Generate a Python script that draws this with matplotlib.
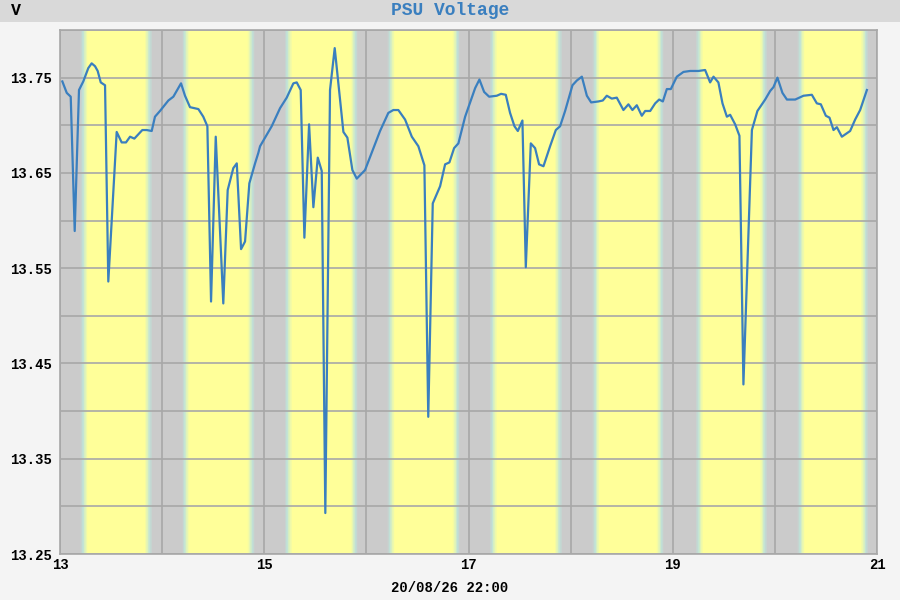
import numpy as np
import matplotlib.pyplot as plt
from matplotlib.colors import to_rgb
from matplotlib.patches import Rectangle

# sample time (day of month, fractional) and PSU voltage
times = [13.023, 13.066, 13.105, 13.144, 13.186, 13.228, 13.277, 13.310, 13.343, 13.369,
         13.399, 13.441, 13.473, 13.555, 13.604, 13.646, 13.686, 13.728, 13.806, 13.849,
         13.898, 13.930, 13.979, 14.061, 14.110, 14.185, 14.224, 14.273, 14.355, 14.403,
         14.443, 14.479, 14.525, 14.599, 14.642, 14.697, 14.731, 14.773, 14.812, 14.854,
         14.910, 14.942, 14.959, 15.073, 15.155, 15.220, 15.285, 15.318, 15.357, 15.393,
         15.439, 15.481, 15.524, 15.563, 15.598, 15.644, 15.690, 15.775, 15.814, 15.863,
         15.906, 15.987, 16.134, 16.215, 16.264, 16.313, 16.379, 16.445, 16.509, 16.568,
         16.606, 16.650, 16.722, 16.771, 16.813, 16.859, 16.901, 16.950, 16.967, 17.065,
         17.107, 17.153, 17.202, 17.277, 17.319, 17.365, 17.407, 17.450, 17.483, 17.528,
         17.561, 17.610, 17.652, 17.691, 17.734, 17.799, 17.855, 17.897, 17.946, 18.018,
         18.061, 18.110, 18.159, 18.201, 18.272, 18.315, 18.354, 18.403, 18.452, 18.517,
         18.566, 18.605, 18.648, 18.697, 18.730, 18.779, 18.828, 18.867, 18.903, 18.942,
         18.981, 19.040, 19.105, 19.170, 19.252, 19.317, 19.366, 19.399, 19.447, 19.487,
         19.530, 19.562, 19.611, 19.653, 19.692, 19.775, 19.829, 19.905, 19.954, 19.986,
         20.025, 20.074, 20.118, 20.199, 20.280, 20.362, 20.411, 20.450, 20.499, 20.535,
         20.574, 20.607, 20.656, 20.737, 20.786, 20.835, 20.901]
volts = [13.746, 13.734, 13.730, 13.589, 13.737, 13.746, 13.760, 13.765, 13.762, 13.757,
         13.745, 13.742, 13.536, 13.693, 13.682, 13.682, 13.688, 13.686, 13.695, 13.695,
         13.694, 13.709, 13.715, 13.726, 13.730, 13.744, 13.731, 13.719, 13.717, 13.709,
         13.699, 13.515, 13.688, 13.513, 13.632, 13.655, 13.660, 13.570, 13.578, 13.639,
         13.660, 13.671, 13.678, 13.699, 13.718, 13.729, 13.744, 13.745, 13.737, 13.582,
         13.701, 13.614, 13.666, 13.652, 13.293, 13.737, 13.781, 13.693, 13.687, 13.653,
         13.644, 13.653, 13.694, 13.713, 13.716, 13.716, 13.706, 13.688, 13.678, 13.658,
         13.394, 13.618, 13.636, 13.659, 13.661, 13.676, 13.681, 13.702, 13.709, 13.739,
         13.748, 13.735, 13.730, 13.731, 13.733, 13.732, 13.713, 13.699, 13.694, 13.705,
         13.551, 13.681, 13.676, 13.659, 13.657, 13.678, 13.695, 13.699, 13.715, 13.742,
         13.747, 13.751, 13.731, 13.724, 13.725, 13.726, 13.731, 13.728, 13.729, 13.716,
         13.722, 13.716, 13.721, 13.710, 13.715, 13.715, 13.723, 13.727, 13.725, 13.738,
         13.738, 13.751, 13.756, 13.757, 13.757, 13.758, 13.745, 13.751, 13.745, 13.723,
         13.709, 13.711, 13.701, 13.689, 13.428, 13.695, 13.715, 13.727, 13.736, 13.740,
         13.750, 13.734, 13.727, 13.727, 13.731, 13.732, 13.723, 13.722, 13.710, 13.708,
         13.695, 13.698, 13.688, 13.694, 13.706, 13.716, 13.737]

# daylight periods (fraction of day)
days = [13, 14, 15, 16, 17, 18, 19, 20]
sunrise = [0.238, 0.231, 0.236, 0.242, 0.244, 0.250, 0.262, 0.258]
sunset = [0.865, 0.871, 0.880, 0.879, 0.880, 0.877, 0.888, 0.878]

x_ticks = [13, 15, 17, 19, 21]
y_ticks = [13.25, 13.35, 13.45, 13.55, 13.65, 13.75]
title = "PSU Voltage"
unit = "V"
xlabel = "20/08/26 22:00"

night = "#cbcbcb"
day = "#ffff99"
stops = [to_rgb(night), to_rgb("#bfe2d8"), to_rgb("#e4f5b4"), to_rgb(day)]
mono = ["Liberation Mono", "DejaVu Sans Mono"]

fig = plt.figure(figsize=(9, 6), dpi=100, facecolor="#f4f4f4")
fig.patches.append(Rectangle((0, 0.963), 1, 0.037, transform=fig.transFigure,
                             facecolor="#d9d9d9", edgecolor="none", zorder=0))
ax = fig.add_axes([60 / 900, 46 / 600, 817 / 900, 524 / 600])
ax.set_facecolor(night)

# day / night background with soft edges
w = 0.075
n = 12
for d, sr, ss in zip(days, sunrise, sunset):
    ax.axvspan(d + sr + w / 2, d + ss - w / 2, color=day, lw=0, zorder=0)
    for k in range(n):
        t = (k + 0.5) / n
        pos = t * (len(stops) - 1)
        i = min(int(pos), len(stops) - 2)
        f = pos - i
        c = tuple(stops[i][j] * (1 - f) + stops[i + 1][j] * f for j in range(3))
        a = -w / 2 + k * w / n
        ax.axvspan(d + sr + a, d + sr + a + w / n, color=c, lw=0, zorder=0)
        ax.axvspan(d + ss - a - w / n, d + ss - a, color=c, lw=0, zorder=0)

ax.plot(times, volts, color="#3a7fbf", lw=1.6, zorder=3)

ax.set_xlim(13, 21)
ax.set_ylim(13.25, 13.80)
ax.set_xticks(x_ticks)
ax.set_xticks(np.arange(13, 22, 1), minor=True)
ax.set_yticks(y_ticks)
ax.set_yticks(np.arange(13.25, 13.81, 0.05), minor=True)
ax.grid(True, which="both", color="#a8a8a8", lw=1.2, zorder=1)
ax.set_axisbelow(False)
for gl in ax.get_xgridlines() + ax.get_ygridlines():
    gl.set_zorder(1)
ax.tick_params(which="both", length=0)
ax.tick_params(axis="y", pad=6)
ax.tick_params(axis="x", pad=3)
ax.set_yticklabels([f"{v:.2f}" for v in y_ticks], family=mono, fontsize=10, fontweight="bold")
ax.set_xticklabels([str(v) for v in x_ticks], family=mono, fontsize=10, fontweight="bold")
for s in ax.spines.values():
    s.set_color("#a8a8a8")
    s.set_linewidth(1.2)

fig.text(0.5, 0.983, title, ha="center", va="center", family=mono, fontsize=13,
         fontweight="bold", color="#3a7fbf")
fig.text(0.012, 0.983, unit, ha="left", va="center", family=mono, fontsize=12,
         fontweight="bold", color="black")
fig.text(0.5, 0.02, xlabel, ha="center", va="center", family=mono, fontsize=10,
         fontweight="bold", color="black")

fig.savefig("out.png", dpi=100, facecolor=fig.get_facecolor())
